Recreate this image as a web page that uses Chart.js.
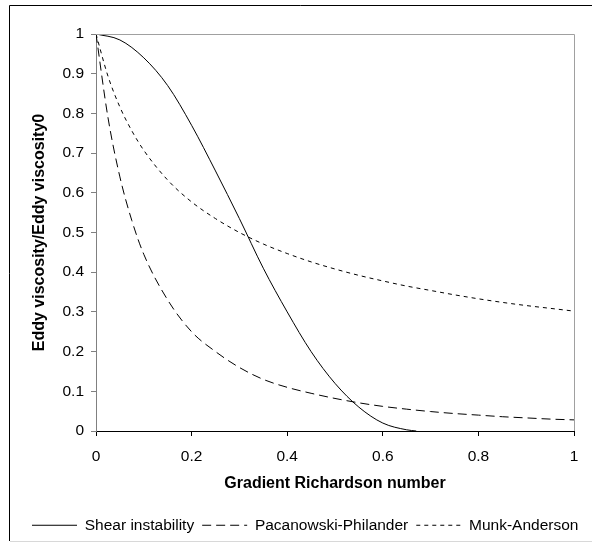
<!DOCTYPE html>
<html>
<head>
<meta charset="utf-8">
<script src="https://cdn.jsdelivr.net/npm/chart.js@4/dist/chart.umd.min.js"></script>
<style>
  html, body { margin: 0; padding: 0; background: #fff; }
  #wrap { width: 592px; height: 543px; position: relative; }
</style>
</head>
<body>
<div id="wrap"><canvas id="canvas"></canvas></div>
<script>
// values
const ri = [0, 0.025, 0.05, 0.075, 0.1, 0.15, 0.2, 0.25, 0.3, 0.35, 0.4, 0.45, 0.5,
  0.55, 0.6, 0.65, 0.7, 0.75, 0.8, 0.85, 0.9, 0.95, 1];
const pacanowski = [1, 0.79, 0.64, 0.53, 0.445, 0.33, 0.25, 0.2, 0.16, 0.13, 0.11, 0.095, 0.082,
  0.071, 0.062, 0.055, 0.049, 0.044, 0.04, 0.036, 0.033, 0.03, 0.028];
const munk = [1, 0.894, 0.816, 0.756, 0.707, 0.632, 0.577, 0.535, 0.5, 0.471, 0.447, 0.426, 0.408,
  0.392, 0.378, 0.365, 0.354, 0.343, 0.333, 0.324, 0.316, 0.309, 0.302];

const riShear = [0, 0.05, 0.1, 0.15, 0.2, 0.25, 0.3, 0.35, 0.4, 0.45, 0.5, 0.55, 0.6, 0.65, 0.67];
const shear = [1, 0.985, 0.94, 0.87, 0.77, 0.655, 0.535, 0.41, 0.3, 0.2, 0.12, 0.06, 0.02, 0.003, 0];

const seriesNames = ["Shear instability", "Pacanowski-Philander", "Munk-Anderson"];
const xTicks = [0, 0.2, 0.4, 0.6, 0.8, 1];

const pts = (xs, ys) => xs.map((x, i) => ({ x: x, y: ys[i] }));

Chart.defaults.font.family = "'Liberation Sans', Arial, sans-serif";
Chart.defaults.color = "#000";

// outer frame + top/right plot border
const frame = {
  id: "frame",
  afterDraw(chart) {
    const c = chart.ctx;
    const a = chart.chartArea;
    c.save();
    c.lineWidth = 1;
    c.strokeStyle = "#000";
    c.beginPath();
    c.moveTo(9.5, 541);
    c.lineTo(9.5, 5.5);
    c.lineTo(592, 5.5);
    c.stroke();
    c.strokeStyle = "#d8d8d8";
    c.beginPath();
    c.moveTo(10, 541.5);
    c.lineTo(592, 541.5);
    c.stroke();
    c.strokeStyle = "#a0a0a0";
    c.beginPath();
    c.moveTo(a.left, a.top + 0.5);
    c.lineTo(a.right + 0.5, a.top + 0.5);
    c.lineTo(a.right + 0.5, a.bottom);
    c.stroke();
    c.restore();
  }
};

new Chart(document.getElementById("canvas"), {
  type: "line",
  data: {
    datasets: [
      {
        label: seriesNames[0],
        data: pts(riShear, shear),
        borderColor: "#000",
        borderWidth: 1,
        pointRadius: 0,
        cubicInterpolationMode: "monotone"
      },
      {
        label: seriesNames[1],
        data: pts(ri, pacanowski),
        borderColor: "#000",
        borderWidth: 1,
        borderDash: [9, 5],
        pointRadius: 0,
        cubicInterpolationMode: "monotone"
      },
      {
        label: seriesNames[2],
        data: pts(ri, munk),
        borderColor: "#000",
        borderWidth: 1,
        borderDash: [4, 4],
        pointRadius: 0,
        cubicInterpolationMode: "monotone"
      }
    ]
  },
  options: {
    responsive: true,
    maintainAspectRatio: false,
    animation: false,
    layout: { padding: { left: 24, right: 0, top: 34, bottom: 0 } },
    plugins: {
      tooltip: { enabled: false },
      legend: {
        position: "bottom",
        align: "start",
        labels: {
          usePointStyle: true,
          pointStyle: "line",
          pointStyleWidth: 45,
          padding: 8,
          color: "#000",
          font: { size: 15.5 },
          generateLabels(chart) {
            const items = Chart.defaults.plugins.legend.labels.generateLabels(chart);
            items.forEach((it) => {
              const ds = chart.data.datasets[it.datasetIndex];
              it.lineDash = ds.borderDash || [];
              it.strokeStyle = "#000";
              it.lineWidth = 1;
            });
            return items;
          }
        }
      }
    },
    scales: {
      x: {
        type: "linear",
        min: 0,
        max: 1,
        afterFit(scale) {
          scale.height = 78.5;
          scale.paddingRight = 18;
          scale.paddingLeft = 0;
        },
        afterBuildTicks(scale) {
          scale.ticks = xTicks.map((v) => ({ value: v }));
        },
        ticks: {
          padding: 11,
          maxRotation: 0,
          font: { size: 15.5 },
          color: "#000",
          callback: (v) => String(parseFloat(v.toFixed(1)))
        },
        grid: {
          drawOnChartArea: false,
          drawTicks: true,
          tickLength: 5,
          color: "#000"
        },
        border: { display: true, color: "#000", width: 1 },
        title: {
          display: true,
          text: "Gradient Richardson number",
          font: { size: 16, weight: "bold" },
          color: "#000",
          padding: { top: 0, bottom: 16 }
        }
      },
      y: {
        min: 0,
        max: 1,
        afterFit(scale) {
          scale.width = 72;
        },
        ticks: {
          stepSize: 0.1,
          padding: 7,
          font: { size: 15.5 },
          color: "#000",
          callback: (v) => String(parseFloat(v.toFixed(1)))
        },
        grid: {
          drawOnChartArea: false,
          drawTicks: true,
          tickLength: 5,
          color: "#808080"
        },
        border: { display: true, color: "#808080", width: 1 },
        title: {
          display: true,
          text: "Eddy viscosity/Eddy viscosity0",
          font: { size: 16, weight: "bold" },
          color: "#000",
          padding: { top: 6.4, bottom: 0 }
        }
      }
    }
  },
  plugins: [frame]
});
</script>
</body>
</html>
